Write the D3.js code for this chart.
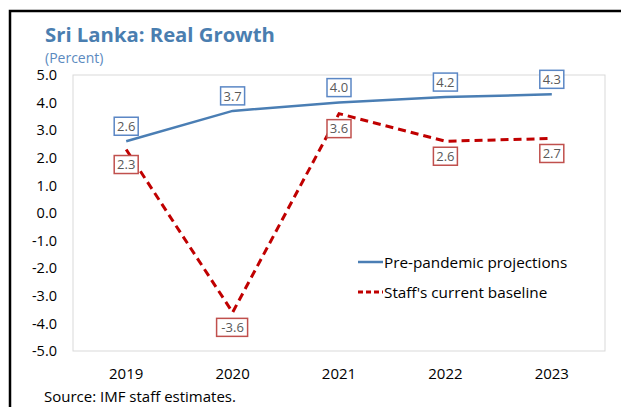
<!DOCTYPE html>
<html>
<head>
<meta charset="utf-8">
<script src="https://cdn.jsdelivr.net/npm/d3@7"></script>
<style>
  body { margin: 0; background: #fff; }
  text { font-family: "Open Sans", "Noto Sans", sans-serif; }
</style>
</head>
<body>
<div id="chart"></div>
<script>
// Data
const years = ["2019", "2020", "2021", "2022", "2023"];
const prePandemic = [2.6, 3.7, 4.0, 4.2, 4.3];
const staffBaseline = [2.3, -3.6, 3.6, 2.6, 2.7];
const yTicks = [5, 4, 3, 2, 1, 0, -1, -2, -3, -4, -5];

const width = 621, height = 407;
const svg = d3.select("#chart").append("svg")
    .attr("width", width)
    .attr("height", height);

// outer frame
svg.append("path")
    .attr("d", "M10,407 V11 H621")
    .attr("fill", "none")
    .attr("stroke", "#000")
    .attr("stroke-width", 2.5);

// title
svg.append("text")
    .attr("x", 45).attr("y", 42)
    .attr("font-size", 20.3).attr("font-weight", "bold")
    .attr("fill", "#4a7eb0")
    .text("Sri Lanka: Real Growth");
svg.append("text")
    .attr("x", 45).attr("y", 63)
    .attr("font-size", 14)
    .attr("fill", "#5b8ac0")
    .text("(Percent)");

// plot area
const plotL = 73, plotR = 605, plotT = 75, plotB = 351;
svg.append("rect")
    .attr("x", plotL).attr("y", plotT)
    .attr("width", plotR - plotL).attr("height", plotB - plotT)
    .attr("fill", "none").attr("stroke", "#d9d9d9").attr("stroke-width", 1);

const x = d3.scalePoint().domain(years).range([plotL, plotR]).padding(0.5);
const y = d3.scaleLinear().domain([-5, 5]).range([plotB, plotT]);

// y axis labels
svg.selectAll(".ytick")
    .data(yTicks)
    .join("text")
    .attr("x", 57).attr("y", d => y(d))
    .attr("dy", "0.36em")
    .attr("text-anchor", "end")
    .attr("font-size", 14.5)
    .attr("fill", "#000")
    .text(d => d.toFixed(1));

// x axis labels
svg.selectAll(".xtick")
    .data(years)
    .join("text")
    .attr("x", d => x(d)).attr("y", 379)
    .attr("text-anchor", "middle")
    .attr("font-size", 15)
    .attr("fill", "#000")
    .text(d => d);

const line = d3.line().x((d, i) => x(years[i])).y(d => y(d));

svg.append("path")
    .datum(prePandemic)
    .attr("d", line)
    .attr("fill", "none")
    .attr("stroke", "#4a7eb4")
    .attr("stroke-width", 2.5);

svg.append("path")
    .datum(staffBaseline)
    .attr("d", line)
    .attr("fill", "none")
    .attr("stroke", "#c00000")
    .attr("stroke-width", 3)
    .attr("stroke-dasharray", "8,5");

// data labels
function addLabels(values, offset, stroke) {
    const g = svg.append("g");
    const lab = g.selectAll("g")
        .data(values)
        .join("g")
        .attr("transform", (d, i) => `translate(${x(years[i])},${y(d) + offset})`);
    lab.append("rect")
        .attr("x", d => d < 0 ? -16 : -12).attr("y", -9)
        .attr("width", d => d < 0 ? 31 : 24).attr("height", 18)
        .attr("fill", "#fff")
        .attr("stroke", stroke).attr("stroke-width", 1.5);
    lab.append("text")
        .attr("text-anchor", "middle")
        .attr("dy", "0.36em")
        .attr("font-size", 13)
        .attr("fill", "#595959")
        .text(d => d.toFixed(1));
}
addLabels(prePandemic, -15, "#5b87c5");
addLabels(staffBaseline, 15, "#c0504d");

// legend
const legend = [
    { name: "Pre-pandemic projections", color: "#4a7eb4", dash: null, w: 2.5 },
    { name: "Staff's current baseline", color: "#c00000", dash: "5,3", w: 3 }
];
const lg = svg.selectAll(".legend")
    .data(legend)
    .join("g")
    .attr("transform", (d, i) => `translate(358,${262 + i * 30})`);
lg.append("line")
    .attr("x1", 0).attr("x2", 25)
    .attr("stroke", d => d.color)
    .attr("stroke-width", d => d.w)
    .attr("stroke-dasharray", d => d.dash);
lg.append("text")
    .attr("x", 26).attr("dy", "0.36em")
    .attr("font-size", 15.3)
    .attr("fill", "#000")
    .text(d => d.name);

// source
svg.append("text")
    .attr("x", 44).attr("y", 402)
    .attr("font-size", 15)
    .attr("fill", "#000")
    .text("Source: IMF staff estimates.");
</script>
</body>
</html>
